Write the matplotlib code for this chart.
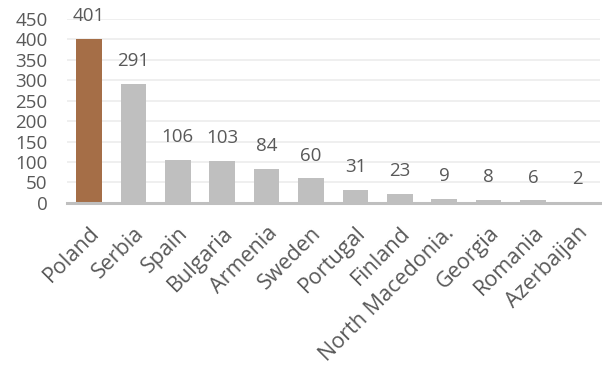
import matplotlib
matplotlib.use("Agg")
import matplotlib.pyplot as plt

countries = ["Poland", "Serbia", "Spain", "Bulgaria", "Armenia", "Sweden",
             "Portugal", "Finland", "North Macedonia.", "Georgia", "Romania",
             "Azerbaijan"]
values = [401, 291, 106, 103, 84, 60, 31, 23, 9, 8, 6, 2]
y_ticks = [0, 50, 100, 150, 200, 250, 300, 350, 400, 450]

highlight = "#a56e47"
base = "#bfbfbf"
text_col = "#595959"

plt.rcParams["font.family"] = ["Open Sans", "DejaVu Sans"]

fig = plt.figure(figsize=(6.02, 3.69), dpi=100)
ax = fig.add_axes([0.111, 0.450, 0.885, 0.499])

colors = [highlight] + [base] * (len(values) - 1)
x = list(range(len(countries)))
bars = ax.bar(x, values, width=0.58, color=colors, zorder=3)

ax.bar_label(bars, labels=[str(v) for v in values], padding=10,
             fontsize=13.5, color=text_col)

ax.set_xlim(-0.5, len(countries) - 0.5)
ax.set_ylim(0, 450)
ax.set_yticks(y_ticks)
ax.set_yticklabels([str(t) for t in y_ticks], fontsize=13.5, color=text_col)
ax.yaxis.grid(True, color="#eeeeee", linewidth=1.3, zorder=0)
ax.set_axisbelow(True)

ax.set_xticks(x)
ax.set_xticklabels(countries, rotation=45, ha="right", rotation_mode="anchor",
                   fontsize=15.5, color=text_col)

for side in ["top", "right", "left"]:
    ax.spines[side].set_visible(False)
ax.spines["bottom"].set_color(base)
ax.spines["bottom"].set_linewidth(2.2)
ax.spines["bottom"].set_zorder(4)
ax.tick_params(axis="both", length=0)
ax.tick_params(axis="y", pad=14)
ax.tick_params(axis="x", pad=14)

fig.savefig("out.png", dpi=100)
